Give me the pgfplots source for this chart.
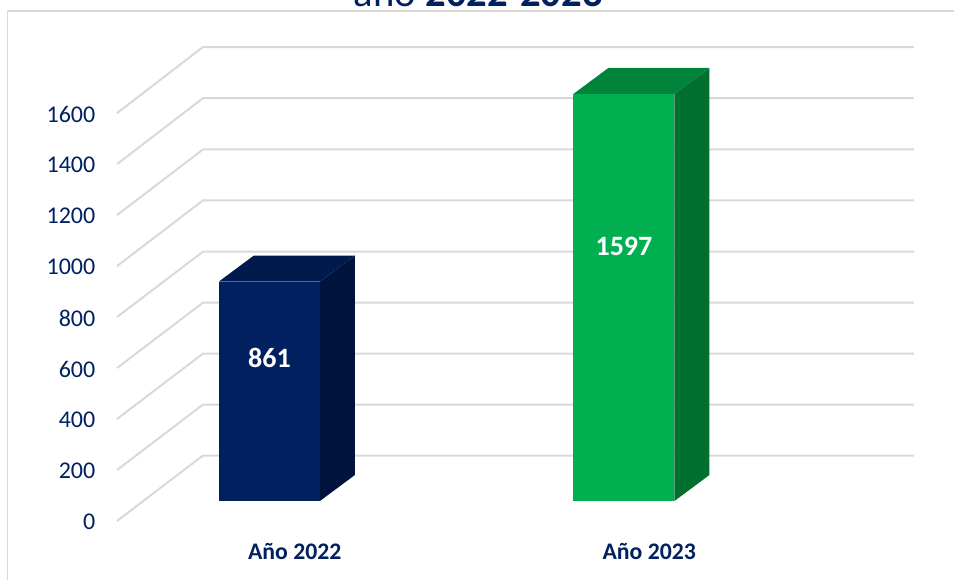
\documentclass[border=0pt]{standalone}
\usepackage{fontspec}
\setmainfont{Carlito}
\usepackage{pgfplots}
\pgfplotsset{compat=1.18}
\definecolor{navy}{HTML}{002060}
\definecolor{navyside}{HTML}{00133D}
\definecolor{navytop}{HTML}{001A4D}
\definecolor{leaf}{HTML}{00B050}
\definecolor{leafside}{HTML}{006F30}
\definecolor{leaftop}{HTML}{00843C}
\definecolor{wall}{HTML}{D9D9D9}
\begin{document}
\begin{tikzpicture}
\path[use as bounding box] (0,0) rectangle (715.5pt,435pt);
\clip (0,0) rectangle (715.5pt,435pt);
\begin{axis}[
  at={(0,0)}, anchor=south west,
  scale only axis, width=715.5pt, height=435pt,
  xmin=-0.760, xmax=1.931, ymin=-310, ymax=1965.5,
  axis line style={draw=none},
  major tick length=0pt,
  clip=false,
  tick label style={text=navy},
  ytick={0,200,400,600,800,1000,1200,1400,1600},
  /pgf/number format/assume math mode=true,
  /pgf/number format/set thousands separator={},
  yticklabel style={font=\fontsize{18}{20}\selectfont, xshift=75pt, yshift=-15.8pt},
  xtick={0,1},
  xticklabels={Año 2022,Año 2023},
  xticklabel style={font=\fontsize{17.8}{20}\selectfont\bfseries, anchor=center, xshift=19pt, yshift=21pt},
  title={año \textbf{2022-2023}},
  title style={at={(rel axis cs:0.5,1)}, anchor=center, text=navy, font=\fontsize{30.5}{33}\selectfont, xshift=1pt, yshift=-0.5pt},
]
% outer chart frame
\addplot[wall, line width=1pt] coordinates {(-0.739,-310) (-0.739,1922) (1.931,1922)};

% receding wall and floor lines, one per tick value
\addplot[wall, line width=1.5pt] coordinates {(-0.430,-78.5) (-0.1876,178) (1.818,178)};
\addplot[wall, line width=1.5pt] coordinates {(-0.430,121.5) (-0.1876,378) (1.818,378)};
\addplot[wall, line width=1.5pt] coordinates {(-0.430,321.5) (-0.1876,578) (1.818,578)};
\addplot[wall, line width=1.5pt] coordinates {(-0.430,521.5) (-0.1876,778) (1.818,778)};
\addplot[wall, line width=1.5pt] coordinates {(-0.430,721.5) (-0.1876,978) (1.818,978)};
\addplot[wall, line width=1.5pt] coordinates {(-0.430,921.5) (-0.1876,1179) (1.818,1179)};
\addplot[wall, line width=1.5pt] coordinates {(-0.430,1121.5) (-0.1876,1379) (1.818,1379)};
\addplot[wall, line width=1.5pt] coordinates {(-0.430,1321.5) (-0.1876,1580) (1.818,1580)};
\addplot[wall, line width=1.5pt] coordinates {(-0.430,1521.5) (-0.1876,1781) (1.818,1781)};

% 2022 block
\addplot[fill=navyside, draw=none] coordinates {(0.1425,0) (0.2412,102) (0.2412,963) (0.1425,861)} --cycle;
\addplot[fill=navytop, draw=none] coordinates {(-0.1425,861) (0.1425,861) (0.2412,963) (-0.0438,963)} --cycle;
\addplot[fill=navy, draw=none] coordinates {(-0.1425,0) (0.1425,0) (0.1425,861) (-0.1425,861)} --cycle;

% 2023 block
\addplot[fill=leafside, draw=none] coordinates {(1.1425,0) (1.2412,102) (1.2412,1699) (1.1425,1597)} --cycle;
\addplot[fill=leaftop, draw=none] coordinates {(0.8575,1597) (1.1425,1597) (1.2412,1699) (0.9562,1699)} --cycle;
\addplot[fill=leaf, draw=none] coordinates {(0.8575,0) (1.1425,0) (1.1425,1597) (0.8575,1597)} --cycle;

\node[text=white, font=\fontsize{21}{23}\selectfont\bfseries] at (axis cs:0,561) {861};
\node[text=white, font=\fontsize{21}{23}\selectfont\bfseries] at (axis cs:1,1000) {1597};
\end{axis}
\end{tikzpicture}
\end{document}
